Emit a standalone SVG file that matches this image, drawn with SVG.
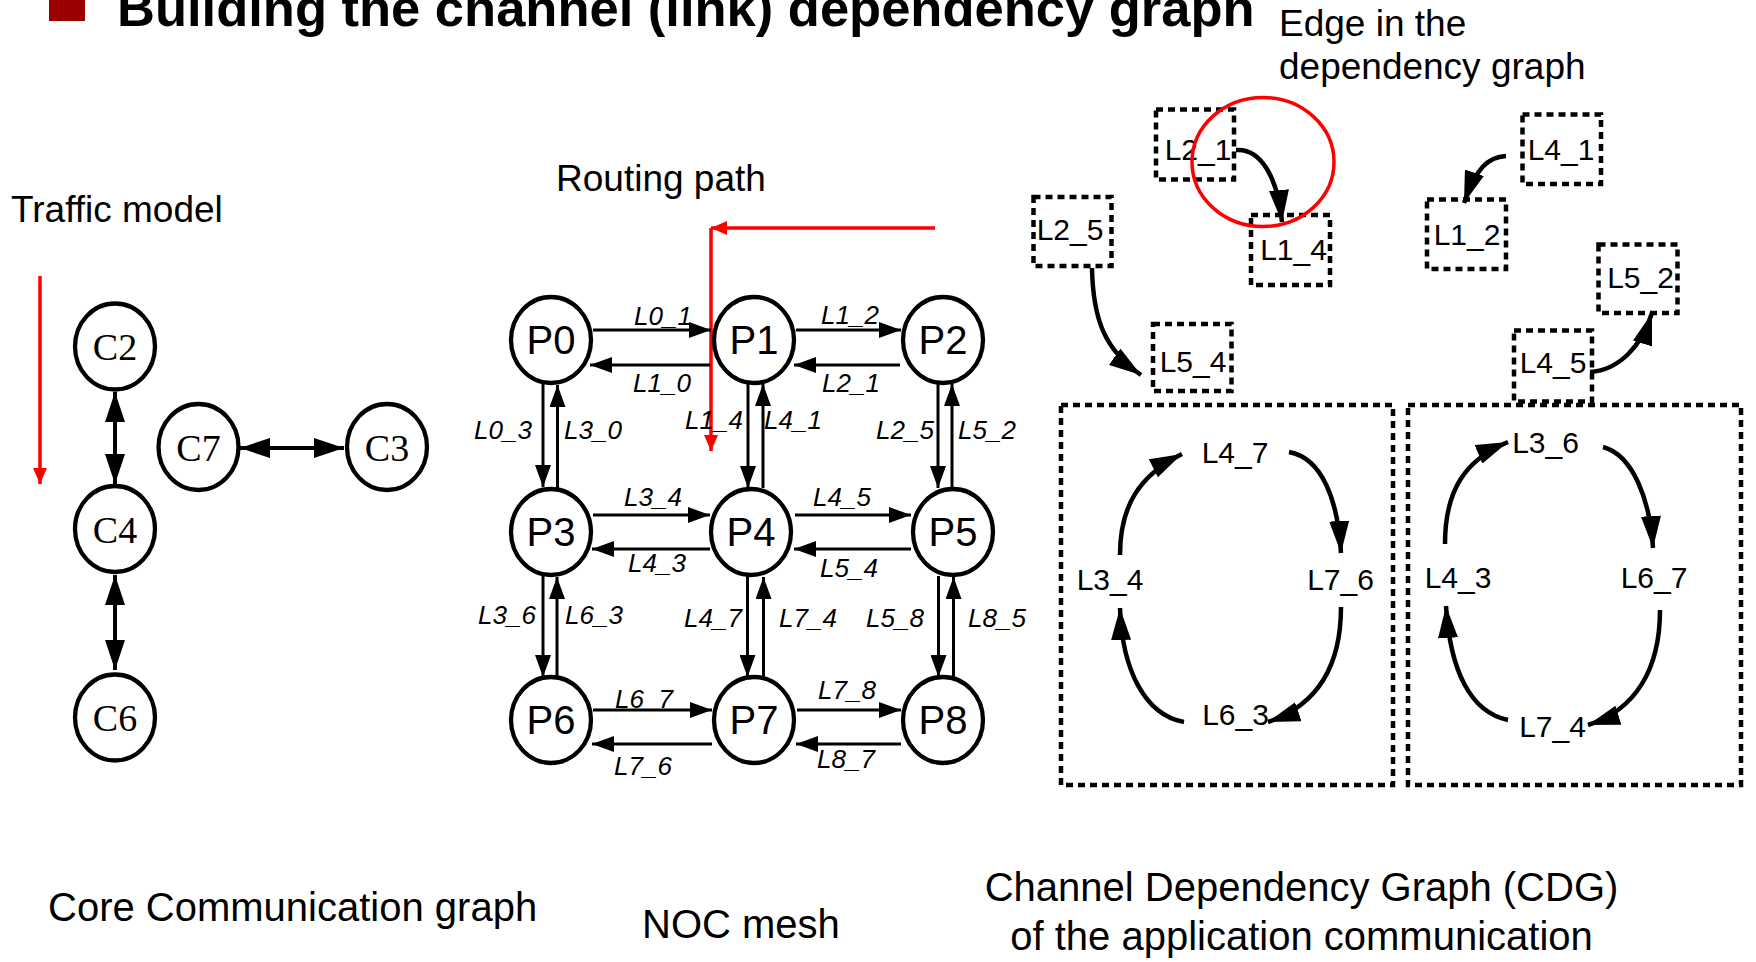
<svg xmlns="http://www.w3.org/2000/svg" width="1756" height="962" viewBox="0 0 1756 962">
<defs>
<style>
.sans{font-family:"Liberation Sans",Arial,sans-serif;fill:#000}
.serif{font-family:"Liberation Serif","Times New Roman",serif;fill:#000}
.circ{fill:#fff;stroke:#000;stroke-width:4.3}
.pnode{fill:#fff;stroke:#000;stroke-width:4.3}
.clabel{font-size:38px;text-anchor:middle}
.plabel{font-size:40px;text-anchor:middle}
.llabel{font-size:26px;font-style:italic}
.mesh{stroke:#000;stroke-width:3;fill:none;marker-end:url(#mh)}
.core{stroke:#000;stroke-width:4;fill:none;marker-start:url(#ch);marker-end:url(#ch)}
.cdg{stroke:#000;stroke-width:4.5;fill:none;marker-end:url(#dh)}
.red{stroke:#ff0000;stroke-width:3.5;fill:none;marker-end:url(#rh)}
.dbox{fill:none;stroke:#000;stroke-width:4.5;stroke-dasharray:7 5}
.blabel{font-size:30px;text-anchor:middle}
.caption{font-size:40px}
.note{font-size:37px}
</style>
<marker id="mh" markerUnits="userSpaceOnUse" markerWidth="22" markerHeight="16" refX="22" refY="8" orient="auto"><path d="M0,0 L22,8 L0,16 z" fill="#000"/></marker>
<marker id="ch" markerUnits="userSpaceOnUse" markerWidth="30" markerHeight="20" refX="30" refY="10" orient="auto-start-reverse"><path d="M0,0 L30,10 L0,20 z" fill="#000"/></marker>
<marker id="dh" markerUnits="userSpaceOnUse" markerWidth="32" markerHeight="20" refX="32" refY="10" orient="auto"><path d="M0,0 L32,10 L0,20 z" fill="#000"/></marker>
<marker id="rh" markerUnits="userSpaceOnUse" markerWidth="16" markerHeight="14" refX="16" refY="7" orient="auto"><path d="M0,0 L16,7 L0,14 z" fill="#ff0000"/></marker>
</defs>
<rect width="1756" height="962" fill="#fff"/>

<g id="title">
<rect x="49" y="-15" width="36" height="36" fill="#9b0000"/>
<text class="sans" x="117" y="26" font-size="52.5" font-weight="bold">Building the channel (link) dependency graph</text>
</g>

<g id="annotations">
<text class="sans note" x="11" y="222">Traffic model</text>
<text class="sans note" x="556" y="191">Routing path</text>
<text class="sans note" x="1279" y="36">Edge in the</text>
<text class="sans note" x="1279" y="79">dependency graph</text>
<text class="sans caption" x="48" y="921">Core Communication graph</text>
<text class="sans caption" x="642" y="938">NOC mesh</text>
<text class="sans caption" x="1301.5" y="901" text-anchor="middle">Channel Dependency Graph (CDG)</text>
<text class="sans caption" x="1301.5" y="950" text-anchor="middle">of the application communication</text>
</g>

<g id="connectors">
<path class="red" d="M40,276 L40,484"/>
<path class="red" d="M935,228 L711,228"/>
<path class="red" d="M711,228 L711,451"/>

<path class="core" d="M115,392 L115,484"/>
<path class="core" d="M115,575 L115,670"/>
<path class="core" d="M240,448 L344,448"/>

<path class="mesh" d="M593,330 L711,330"/>
<path class="mesh" d="M710,365 L590,365"/>
<path class="mesh" d="M796,330 L901,330"/>
<path class="mesh" d="M900,365 L794,365"/>
<path class="mesh" d="M593,515 L710,515"/>
<path class="mesh" d="M710,549 L592,549"/>
<path class="mesh" d="M795,515 L911,515"/>
<path class="mesh" d="M911,549 L794,549"/>
<path class="mesh" d="M593,710 L712,710"/>
<path class="mesh" d="M712,744 L592,744"/>
<path class="mesh" d="M797,710 L901,710"/>
<path class="mesh" d="M901,744 L796,744"/>
<path class="mesh" d="M543,384 L543,487"/>
<path class="mesh" d="M557.5,488 L557.5,385"/>
<path class="mesh" d="M748,384 L748,488"/>
<path class="mesh" d="M763,488 L763,384"/>
<path class="mesh" d="M938,384 L938,488"/>
<path class="mesh" d="M952,488 L952,384"/>
<path class="mesh" d="M543,576 L543,677"/>
<path class="mesh" d="M557,677 L557,577"/>
<path class="mesh" d="M747.5,576 L747.5,677"/>
<path class="mesh" d="M763.5,677 L763.5,577"/>
<path class="mesh" d="M938.5,576 L938.5,677"/>
<path class="mesh" d="M953.5,677 L953.5,577"/>

<path class="cdg" d="M1236,150 C1262,148 1278,180 1282,222"/>
<path class="cdg" d="M1506,156 C1488,157 1476,168 1464,203"/>
<path class="cdg" d="M1092,268 C1093,320 1105,350 1141,375"/>
<path class="cdg" d="M1590,372 C1620,370 1642,345 1652,313"/>
<path class="cdg" d="M1120,555 C1120,505 1140,475 1182,454"/>
<path class="cdg" d="M1289,452 C1322,458 1338,500 1341,553"/>
<path class="cdg" d="M1341,607 C1341,665 1318,705 1268,722"/>
<path class="cdg" d="M1184,722 C1145,715 1122,670 1120,608"/>
<path class="cdg" d="M1445,544 C1445,490 1465,460 1508,442"/>
<path class="cdg" d="M1603,447 C1633,455 1650,500 1653,548"/>
<path class="cdg" d="M1660,610 C1660,670 1635,710 1588,725"/>
<path class="cdg" d="M1508,720 C1470,712 1450,670 1446,606"/>
</g>

<g id="core-nodes">
<g id="C2"><ellipse class="circ" cx="115" cy="346.5" rx="40" ry="43"/><text class="serif clabel" x="115" y="360">C2</text></g>
<g id="C4"><ellipse class="circ" cx="115" cy="529" rx="40" ry="43"/><text class="serif clabel" x="115" y="542.5">C4</text></g>
<g id="C6"><ellipse class="circ" cx="115" cy="717.5" rx="40" ry="43"/><text class="serif clabel" x="115" y="731">C6</text></g>
<g id="C7"><ellipse class="circ" cx="198.5" cy="447" rx="40" ry="43"/><text class="serif clabel" x="198.5" y="460.5">C7</text></g>
<g id="C3"><ellipse class="circ" cx="387" cy="447" rx="40" ry="43"/><text class="serif clabel" x="387" y="460.5">C3</text></g>
</g>

<g id="mesh-nodes">
<g id="P0"><ellipse class="pnode" cx="551" cy="340" rx="40" ry="43"/><text class="sans plabel" x="551" y="353.5">P0</text></g>
<g id="P1"><ellipse class="pnode" cx="754" cy="340" rx="40" ry="43"/><text class="sans plabel" x="754" y="353.5">P1</text></g>
<g id="P2"><ellipse class="pnode" cx="943" cy="340" rx="40" ry="43"/><text class="sans plabel" x="943" y="353.5">P2</text></g>
<g id="P3"><ellipse class="pnode" cx="551" cy="532" rx="40" ry="43"/><text class="sans plabel" x="551" y="545.5">P3</text></g>
<g id="P4"><ellipse class="pnode" cx="751" cy="532" rx="40" ry="43"/><text class="sans plabel" x="751" y="545.5">P4</text></g>
<g id="P5"><ellipse class="pnode" cx="953" cy="532" rx="40" ry="43"/><text class="sans plabel" x="953" y="545.5">P5</text></g>
<g id="P6"><ellipse class="pnode" cx="551" cy="720" rx="40" ry="43"/><text class="sans plabel" x="551" y="733.5">P6</text></g>
<g id="P7"><ellipse class="pnode" cx="754" cy="720" rx="40" ry="43"/><text class="sans plabel" x="754" y="733.5">P7</text></g>
<g id="P8"><ellipse class="pnode" cx="943" cy="720" rx="40" ry="43"/><text class="sans plabel" x="943" y="733.5">P8</text></g>
</g>

<g id="link-labels">
<text class="sans llabel" x="634" y="325">L0_1</text>
<text class="sans llabel" x="633" y="392">L1_0</text>
<text class="sans llabel" x="821" y="324">L1_2</text>
<text class="sans llabel" x="822" y="392">L2_1</text>
<text class="sans llabel" x="474" y="439">L0_3</text>
<text class="sans llabel" x="564" y="439">L3_0</text>
<text class="sans llabel" x="685" y="429">L1_4</text>
<text class="sans llabel" x="764" y="429">L4_1</text>
<text class="sans llabel" x="876" y="439">L2_5</text>
<text class="sans llabel" x="958" y="439">L5_2</text>
<text class="sans llabel" x="624" y="506">L3_4</text>
<text class="sans llabel" x="813" y="506">L4_5</text>
<text class="sans llabel" x="628" y="572">L4_3</text>
<text class="sans llabel" x="820" y="577">L5_4</text>
<text class="sans llabel" x="478" y="624">L3_6</text>
<text class="sans llabel" x="565" y="624">L6_3</text>
<text class="sans llabel" x="684" y="627">L4_7</text>
<text class="sans llabel" x="779" y="627">L7_4</text>
<text class="sans llabel" x="866" y="627">L5_8</text>
<text class="sans llabel" x="968" y="627">L8_5</text>
<text class="sans llabel" x="615" y="708">L6_7</text>
<text class="sans llabel" x="614" y="775">L7_6</text>
<text class="sans llabel" x="818" y="699">L7_8</text>
<text class="sans llabel" x="817" y="768">L8_7</text>
</g>

<g id="cdg-regions">
<rect id="cycle-left" class="dbox" x="1061" y="405" width="332" height="380"/>
<rect id="cycle-right" class="dbox" x="1408" y="405" width="333" height="380"/>
</g>

<g id="cdg-nodes">
<g id="n-L2_1"><rect class="dbox" x="1156" y="109.5" width="78" height="70"/><text class="sans blabel" x="1198" y="160">L2_1</text></g>
<g id="n-L1_4"><rect class="dbox" x="1251" y="215" width="79" height="70"/><text class="sans blabel" x="1293.5" y="260">L1_4</text></g>
<g id="n-L2_5"><rect class="dbox" x="1033.5" y="197" width="78" height="69"/><text class="sans blabel" x="1070" y="240">L2_5</text></g>
<g id="n-L5_4"><rect class="dbox" x="1153" y="324" width="78.5" height="67"/><text class="sans blabel" x="1193" y="371.5">L5_4</text></g>
<g id="n-L4_1"><rect class="dbox" x="1522.5" y="114.5" width="78.5" height="69.5"/><text class="sans blabel" x="1561" y="159.5">L4_1</text></g>
<g id="n-L1_2"><rect class="dbox" x="1427" y="199.5" width="79" height="69.5"/><text class="sans blabel" x="1467" y="245">L1_2</text></g>
<g id="n-L5_2"><rect class="dbox" x="1598.5" y="244.5" width="79" height="68.5"/><text class="sans blabel" x="1640.5" y="287.5">L5_2</text></g>
<g id="n-L4_5"><rect class="dbox" x="1514" y="330.5" width="78" height="71"/><text class="sans blabel" x="1553" y="372.5">L4_5</text></g>
<g id="n-L4_7"><text class="sans blabel" x="1235" y="463">L4_7</text></g>
<g id="n-L3_4"><text class="sans blabel" x="1110" y="590">L3_4</text></g>
<g id="n-L7_6"><text class="sans blabel" x="1340.5" y="590">L7_6</text></g>
<g id="n-L6_3"><text class="sans blabel" x="1235.5" y="725">L6_3</text></g>
<g id="n-L3_6"><text class="sans blabel" x="1545.5" y="453">L3_6</text></g>
<g id="n-L4_3"><text class="sans blabel" x="1458" y="588">L4_3</text></g>
<g id="n-L6_7"><text class="sans blabel" x="1654" y="588">L6_7</text></g>
<g id="n-L7_4"><text class="sans blabel" x="1552.5" y="737">L7_4</text></g>
</g>

<g id="highlight">
<ellipse cx="1263" cy="162" rx="71" ry="64.5" fill="none" stroke="#ff0000" stroke-width="3.5"/>
</g>
</svg>
